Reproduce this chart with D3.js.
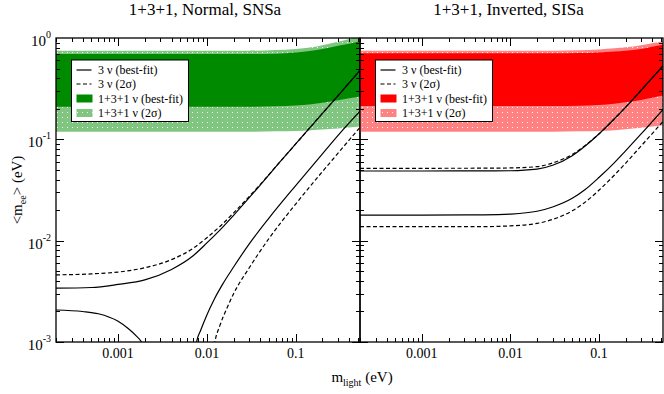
<!DOCTYPE html>
<html><head><meta charset="utf-8">
<script src="https://cdn.jsdelivr.net/npm/d3@7"></script>
<style>
body{margin:0;background:#fff}
svg{display:block}
text{font-family:"Liberation Serif","Times New Roman",serif;fill:#000}
</style>
</head><body>
<svg id="c" width="664" height="394"></svg>
<script>
// ---------- data ----------
const titles = ["1+3+1, Normal, SNSa", "1+3+1, Inverted, SISa"];
const xTickValues = [0.001, 0.01, 0.1];
const xTickLabels = ["0.001", "0.01", "0.1"];
const yTickValues = [1, 0.1, 0.01, 0.001];
const yTickExponents = ["0", "-1", "-2", "-3"];
const legendLabels = ["3 \u03bd (best-fit)", "3 \u03bd (2\u03c3)", "1+3+1 \u03bd (best-fit)", "1+3+1 \u03bd (2\u03c3)"];

// band boundaries (m_light in eV -> <m_ee> in eV)
const bandM        = [2e-4, 0.01, 0.03, 0.06, 0.1, 0.15, 0.2, 0.3, 0.4, 0.53];
const noLightTop   = [0.75, 0.75, 0.75, 0.76, 0.78, 0.81, 0.85, 0.92, 0.98, 1.05];
const noDarkTop    = [0.695, 0.695, 0.695, 0.70, 0.72, 0.75, 0.78, 0.84, 0.88, 0.93];
const noDarkBot    = [0.21, 0.21, 0.21, 0.212, 0.216, 0.222, 0.23, 0.243, 0.254, 0.265];
const noLightBot   = [0.119, 0.119, 0.119, 0.12, 0.121, 0.123, 0.125, 0.128, 0.131, 0.134];
const ioLightTop   = [0.75, 0.75, 0.75, 0.755, 0.77, 0.79, 0.81, 0.85, 0.89, 0.93];
const ioDarkTop    = [0.706, 0.706, 0.706, 0.71, 0.72, 0.735, 0.75, 0.78, 0.82, 0.86];
const ioDarkBot    = [0.213, 0.213, 0.213, 0.215, 0.218, 0.224, 0.232, 0.245, 0.257, 0.27];
const ioLightBot   = [0.119, 0.119, 0.119, 0.12, 0.121, 0.123, 0.126, 0.13, 0.134, 0.138];

// Normal ordering, 3 nu lines
const noUpM        = [2e-4, 5e-4, 0.001, 0.002, 0.004, 0.007, 0.01, 0.014, 0.02, 0.04, 0.07, 0.1, 0.2, 0.3, 0.53];
const noUpSolid    = [3.4e-3, 3.45e-3, 3.7e-3, 4.1e-3, 5.2e-3, 7.1e-3, 9.5e-3, 1.27e-2, 1.78e-2, 3.55e-2, 6.3e-2, 0.09, 0.18, 0.27, 0.48];
const noUpDashed   = [4.6e-3, 4.7e-3, 4.9e-3, 5.4e-3, 6.5e-3, 8.4e-3, 1.07e-2, 1.38e-2, 1.88e-2, 3.6e-2, 6.3e-2, 0.09, 0.18, 0.27, 0.48];
const noLowLeftM   = [2e-4, 4e-4, 6e-4, 0.001, 0.0013, 0.0016, 0.00184, 0.0021];
const noLowLeft    = [2.07e-3, 2.0e-3, 1.9e-3, 1.6e-3, 1.36e-3, 1.15e-3, 1.0e-3, 8.0e-4];
const noLowSolidM  = [0.0072, 0.00765, 0.0085, 0.01, 0.012, 0.015, 0.02, 0.03, 0.05, 0.1, 0.2, 0.34, 0.53];
const noLowSolid   = [7e-4, 1.0e-3, 1.3e-3, 1.85e-3, 2.6e-3, 3.7e-3, 5.5e-3, 9.3e-3, 1.67e-2, 3.5e-2, 7.2e-2, 0.124, 0.19];
const noLowDashM   = [0.0118, 0.0123, 0.014, 0.017, 0.02, 0.03, 0.05, 0.1, 0.2, 0.3, 0.438, 0.53];
const noLowDashed  = [8e-4, 1.0e-3, 1.45e-3, 2.2e-3, 3.0e-3, 5.4e-3, 1.05e-2, 2.3e-2, 4.8e-2, 7.3e-2, 0.108, 0.131];

// Inverted ordering, 3 nu lines
const ioM          = [2e-4, 0.001, 0.005, 0.01, 0.02, 0.03, 0.05, 0.07, 0.1, 0.15, 0.2, 0.3, 0.53];
const ioUpSolid    = [0.0487, 0.0487, 0.0488, 0.049, 0.0508, 0.0555, 0.069, 0.086, 0.113, 0.16, 0.207, 0.305, 0.53];
const ioUpDashed   = [0.0518, 0.0518, 0.0519, 0.0522, 0.0538, 0.0585, 0.071, 0.087, 0.113, 0.16, 0.207, 0.305, 0.53];
const ioLowSolid   = [0.0179, 0.0179, 0.018, 0.0183, 0.0195, 0.0215, 0.0262, 0.032, 0.042, 0.059, 0.077, 0.113, 0.197];
const ioLowDashed  = [0.01374, 0.01374, 0.01376, 0.0140, 0.0148, 0.0162, 0.0197, 0.024, 0.0314, 0.0445, 0.058, 0.086, 0.15];

// ---------- layout ----------
const svg = d3.select("#c");
const Y0 = 38, Y1 = 342;
const xDomain = [2e-4, 0.53];
const panels = [
  {x0: 56, x1: 360, dark: "#008a00", light: "#80c680", pat: "patG",
   lightTop: noLightTop, darkTop: noDarkTop, darkBot: noDarkBot, lightBot: noLightBot,
   lines: [
     {m: noUpM, v: noUpSolid, dash: null},
     {m: noUpM, v: noUpDashed, dash: "4,2.5"},
     {m: noLowLeftM, v: noLowLeft, dash: null},
     {m: noLowSolidM, v: noLowSolid, dash: null},
     {m: noLowDashM, v: noLowDashed, dash: "4,2.5"}
   ]},
  {x0: 360, x1: 663, dark: "#ff0000", light: "#ff8282", pat: "patR",
   lightTop: ioLightTop, darkTop: ioDarkTop, darkBot: ioDarkBot, lightBot: ioLightBot,
   lines: [
     {m: ioM, v: ioUpSolid, dash: null},
     {m: ioM, v: ioUpDashed, dash: "4,2.5"},
     {m: ioM, v: ioLowSolid, dash: null},
     {m: ioM, v: ioLowDashed, dash: "4,2.5"}
   ]}
];

const y = d3.scaleLog().domain([1e-3, 1]).range([Y1, Y0]);

const defs = svg.append("defs");
panels.forEach((p, i) => {
  const pat = defs.append("pattern").attr("id", p.pat).attr("patternUnits", "userSpaceOnUse")
    .attr("width", 5).attr("height", 5);
  pat.append("rect").attr("width", 5).attr("height", 5).attr("fill", p.light);
  pat.append("rect").attr("x", 2).attr("y", 2).attr("width", 1).attr("height", 1).attr("fill", "#fff").attr("opacity", 0.9);
  defs.append("clipPath").attr("id", "clip" + i).append("rect")
    .attr("x", p.x0).attr("y", Y0).attr("width", p.x1 - p.x0).attr("height", Y1 - Y0);
});

const minorX = [];
for (let e = -4; e <= -1; e++) for (let k = 1; k <= 9; k++) {
  const v = k * Math.pow(10, e);
  if (v >= xDomain[0] * 0.999 && v <= xDomain[1]) minorX.push(v);
}
const minorY = [];
for (let e = -3; e <= -1; e++) for (let k = 1; k <= 9; k++) minorY.push(k * Math.pow(10, e));

panels.forEach((p, i) => {
  const x = d3.scaleLog().domain(xDomain).range([p.x0, p.x1]);
  const g = svg.append("g");
  const gc = g.append("g").attr("clip-path", `url(#clip${i})`);

  const area = (top, bot) => d3.area()
    .x((d, j) => x(bandM[j])).y0((d, j) => y(bot[j])).y1((d, j) => y(top[j]))
    .curve(d3.curveMonotoneX)(bandM);
  gc.append("path").attr("d", area(p.lightTop, p.lightBot)).attr("fill", `url(#${p.pat})`);
  gc.append("path").attr("d", area(p.darkTop, p.darkBot)).attr("fill", p.dark);

  p.lines.forEach(L => {
    const line = d3.line().x((d, j) => x(L.m[j])).y((d, j) => y(L.v[j])).curve(d3.curveMonotoneX);
    gc.append("path").attr("d", line(L.m)).attr("fill", "none").attr("stroke", "#000")
      .attr("stroke-width", 1.2).attr("stroke-dasharray", L.dash);
  });

  // ticks (inward on all sides)
  const tk = g.append("g").attr("stroke", "#000").attr("stroke-width", 1);
  minorX.forEach(v => {
    const major = xTickValues.some(t => Math.abs(t - v) / t < 1e-6);
    const len = major ? 8 : 4;
    const xx = Math.round(x(v)) + 0.5;
    tk.append("line").attr("x1", xx).attr("x2", xx).attr("y1", Y1).attr("y2", Y1 - len);
    tk.append("line").attr("x1", xx).attr("x2", xx).attr("y1", Y0).attr("y2", Y0 + len);
  });
  minorY.forEach(v => {
    const major = yTickValues.some(t => Math.abs(t - v) / t < 1e-6);
    const len = major ? 8 : 4;
    const yy = Math.round(y(v)) + 0.5;
    tk.append("line").attr("y1", yy).attr("y2", yy).attr("x1", p.x0).attr("x2", p.x0 + len);
    tk.append("line").attr("y1", yy).attr("y2", yy).attr("x1", p.x1).attr("x2", p.x1 - len);
  });

  // frame
  g.append("rect").attr("x", p.x0).attr("y", Y0).attr("width", p.x1 - p.x0).attr("height", Y1 - Y0)
    .attr("fill", "none").attr("stroke", "#000").attr("stroke-width", 1.3);

  // x tick labels
  xTickValues.forEach((v, j) => {
    g.append("text").attr("x", x(v)).attr("y", 358).attr("text-anchor", "middle")
      .attr("font-size", 14).text(xTickLabels[j]);
  });

  // title
  g.append("text").attr("x", (p.x0 + p.x1) / 2 - 3).attr("y", 15).attr("text-anchor", "middle")
    .attr("font-size", 17).text(titles[i]);

  // legend
  const lx = p.x0 + 15.5, ly = 60;
  const lg = g.append("g");
  lg.append("rect").attr("x", lx).attr("y", ly).attr("width", 117).attr("height", 61.5)
    .attr("fill", "#fff").attr("stroke", "#000").attr("stroke-width", 1);
  const rows = [70, 84, 98.5, 113];
  lg.append("line").attr("x1", lx + 5).attr("x2", lx + 20).attr("y1", rows[0]).attr("y2", rows[0])
    .attr("stroke", "#000").attr("stroke-width", 1.2);
  lg.append("line").attr("x1", lx + 5).attr("x2", lx + 20).attr("y1", rows[1]).attr("y2", rows[1])
    .attr("stroke", "#000").attr("stroke-width", 1.2).attr("stroke-dasharray", "4,2.5");
  lg.append("rect").attr("x", lx + 5).attr("y", rows[2] - 4).attr("width", 16).attr("height", 8).attr("fill", p.dark);
  lg.append("rect").attr("x", lx + 5).attr("y", rows[3] - 4).attr("width", 16).attr("height", 8).attr("fill", `url(#${p.pat})`);
  legendLabels.forEach((t, j) => {
    lg.append("text").attr("x", lx + 26.5).attr("y", rows[j] + 4).attr("font-size", 12).text(t);
  });
});

// y tick labels (left panel only)
yTickValues.forEach((v, j) => {
  const t = svg.append("text").attr("x", 51).attr("y", y(v) + 8).attr("text-anchor", "end").attr("font-size", 15);
  t.append("tspan").text("10");
  t.append("tspan").attr("font-size", 10).attr("dy", -8).text(yTickExponents[j]);
});

// axis titles
const yt = svg.append("text").attr("transform", "translate(22,190) rotate(-90)")
  .attr("text-anchor", "middle").attr("font-size", 15);
yt.append("tspan").text("<m");
yt.append("tspan").attr("font-size", 10).attr("dy", 4).text("ee");
yt.append("tspan").attr("dy", -4).text("> (eV)");

const xt = svg.append("text").attr("x", 362).attr("y", 382).attr("text-anchor", "middle").attr("font-size", 15);
xt.append("tspan").text("m");
xt.append("tspan").attr("font-size", 10).attr("dy", 4).text("light");
xt.append("tspan").attr("dy", -4).text(" (eV)");
</script>
</body></html>
